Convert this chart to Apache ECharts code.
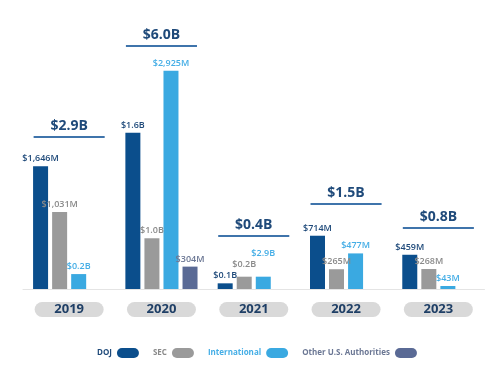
<!DOCTYPE html>
<html>
<head>
<meta charset="utf-8">
<script src="https://cdn.jsdelivr.net/npm/echarts@6/dist/echarts.min.js"></script>
<style>html,body{margin:0;padding:0;background:#fff;}#c{width:500px;height:377px;}</style>
</head>
<body>
<div id="c"></div>
<script>
// ---- data (millions USD) ----
var years = ['2019', '2020', '2021', '2022', '2023'];
var seriesNames = ['DOJ', 'SEC', 'International', 'Other U.S. Authorities'];
var dojValues = [1646, 2093, 76, 714, 459];
var secValues = [1031, 680, 165, 265, 268];
var intlValues = [200, 2925, 165, 477, 40];
var otherValues = [null, 300, null, null, null];
var dojLabels = ['$1,646M', '$1.6B', '$0.1B', '$714M', '$459M'];
var secLabels = ['$1,031M', '$1.0B', '$0.2B', '$265M', '$268M'];
var intlLabels = ['$0.2B', '$2,925M', '$2.9B', '$477M', '$43M'];
var otherLabels = ['', '$304M', '', '', ''];
var totalLabels = ['$2.9B', '$6.0B', '$0.4B', '$1.5B', '$0.8B'];
var totalLevels = [2037, 3257, 710, 1139, 817]; // height of each total annotation, in value units

var colors = ['#0b4e8c', '#9a9a9a', '#3aa9e1', '#5a6a95'];
var labelColors = ['#1f4a7a', '#8a8a8a', '#45aee6', '#6b7794'];
var labelLift = { 2: [0, 5, 16, 0] }; // extra label spacing for crowded 2021 group

var FONT = '"Open Sans", Lato, sans-serif';
var allValues = [dojValues, secValues, intlValues, otherValues];
var allLabels = [dojLabels, secLabels, intlLabels, otherLabels];

function barSeries(si) {
  return {
    name: seriesNames[si],
    type: 'bar',
    barWidth: 15,
    barGap: '27%',
    itemStyle: { color: colors[si] },
    data: allValues[si].map(function (v, i) {
      var lift = labelLift[i] ? labelLift[i][si] : 0;
      return {
        value: v,
        label: {
          show: v != null,
          position: 'top',
          distance: 3 + lift,
          formatter: allLabels[si][i],
          color: labelColors[si],
          fontSize: 9,
          fontWeight: 600,
          fontFamily: FONT
        }
      };
    })
  };
}

var chart = echarts.init(document.getElementById('c'), null, { renderer: 'canvas' });
var capsule = 'path://M5,0 H17 A5,5 0 0 1 17,10 H5 A5,5 0 0 1 5,0 Z';

var option = {
  backgroundColor: '#ffffff',
  animation: false,
  grid: { left: 23, right: 15.5, top: 20.4, bottom: 88 },
  legend: {
    left: 92,
    top: 343,
    width: 400,
    align: 'right',
    itemWidth: 22,
    itemHeight: 10,
    itemGap: 14,
    icon: capsule,
    data: seriesNames.map(function (n, i) {
      return { name: n, textStyle: { color: labelColors[i] } };
    }),
    textStyle: { fontSize: 8, fontWeight: 'bold', fontFamily: FONT }
  },
  xAxis: {
    type: 'category',
    data: years,
    axisLine: { lineStyle: { color: '#e4e4e4', width: 1 } },
    axisTick: { show: false },
    axisLabel: {
      margin: 13,
      color: '#1f3f66',
      fontSize: 13,
      fontWeight: 'bold',
      fontFamily: FONT,
      backgroundColor: '#d9d9d9',
      borderRadius: 8,
      width: 69,
      height: 15,
      lineHeight: 15,
      align: 'center'
    }
  },
  yAxis: {
    type: 'value',
    min: 0,
    max: 3600,
    show: false,
    splitLine: { show: false }
  },
  series: [
    barSeries(0), barSeries(1), barSeries(2), barSeries(3),
    {
      type: 'custom',
      name: 'totals',
      silent: true,
      data: totalLevels.map(function (v, i) { return [i, v]; }),
      encode: { x: 0, y: 1 },
      renderItem: function (params, api) {
        var p = api.coord([api.value(0), api.value(1)]);
        var w = api.size([1, 0])[0] * 0.77;
        return {
          type: 'group',
          children: [
            {
              type: 'line',
              shape: { x1: p[0] - w / 2, y1: p[1], x2: p[0] + w / 2, y2: p[1] },
              style: { stroke: '#3f74ab', lineWidth: 2 }
            },
            {
              type: 'text',
              x: p[0], y: p[1] - 11,
              style: {
                text: totalLabels[params.dataIndex],
                fill: '#1f4a7a',
                font: 'bold 14px ' + FONT,
                textAlign: 'center',
                textVerticalAlign: 'middle'
              }
            }
          ]
        };
      }
    }
  ]
};
chart.setOption(option);
</script>
</body>
</html>
